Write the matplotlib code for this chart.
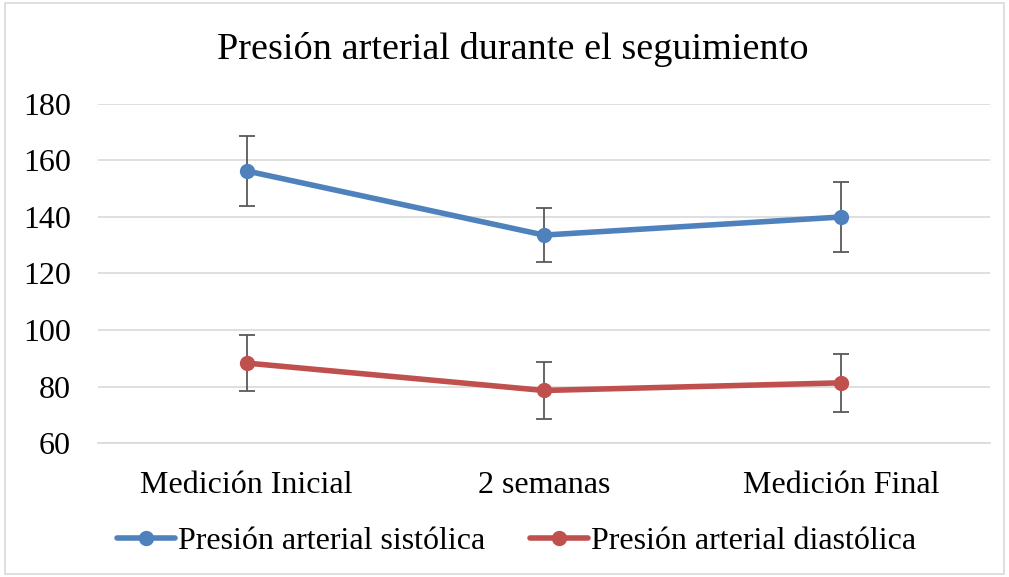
import matplotlib.pyplot as plt
from matplotlib.patches import Rectangle

plt.rcParams["font.family"] = ["Liberation Serif", "DejaVu Serif"]

categories = ["Medición Inicial", "2 semanas", "Medición Final"]
sistolica = [156.3, 133.6, 140.0]
sistolica_err = [12.4, 9.6, 12.5]
diastolica = [88.3, 78.6, 81.3]
diastolica_err = [9.8, 10.1, 10.2]
yticks = [60, 80, 100, 120, 140, 160, 180]

fig = plt.figure(figsize=(10.09, 5.77), dpi=100)
fig.patches.append(Rectangle((0.005, 0.005), 0.99, 0.99, transform=fig.transFigure,
                             fill=False, edgecolor="#d9d9d9", lw=1.2))
ax = fig.add_axes([0.0971, 0.2322, 0.884, 0.5876])

x = range(len(categories))
for vals, errs, color, label in [
    (sistolica, sistolica_err, "#4F81BD", "Presión arterial sistólica"),
    (diastolica, diastolica_err, "#C0504D", "Presión arterial diastólica"),
]:
    ax.errorbar(x, vals, yerr=errs, fmt="none", ecolor="#595959", elinewidth=1.3,
                capsize=6, capthick=1.3, zorder=2)
    ax.plot(x, vals, color=color, lw=4, marker="o", markersize=10,
            solid_capstyle="round", label=label, zorder=3)

ax.set_xlim(-0.5, 2.5)
ax.set_ylim(60, 180)
ax.set_yticks(yticks)
ax.set_xticks(list(x))
ax.set_xticklabels(categories)
ax.yaxis.grid(True, color="#d9d9d9", lw=1.2)
ax.set_axisbelow(True)
for s in ["top", "right", "left"]:
    ax.spines[s].set_visible(False)
ax.spines["bottom"].set_color("#d9d9d9")
ax.spines["bottom"].set_linewidth(1.2)
ax.tick_params(axis="both", length=0, labelsize=23, colors="black")
ax.tick_params(axis="x", pad=20)
ax.tick_params(axis="y", pad=19.5)

fig.text(0.508, 0.915, "Presión arterial durante el seguimiento", ha="center",
         va="center", fontsize=27.5)
fig.legend(loc="center", bbox_to_anchor=(0.512, 0.062), ncol=2, frameon=False,
           fontsize=23, handlelength=1.8, columnspacing=1.4, handletextpad=0.1)

fig.savefig("out.png", dpi=100)
